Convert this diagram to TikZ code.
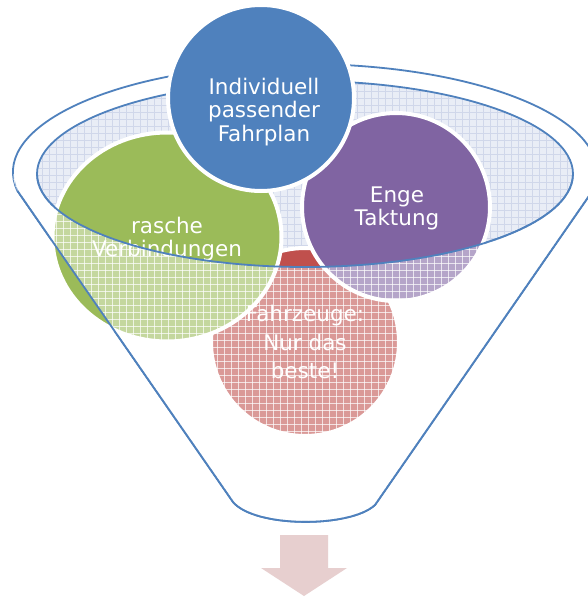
\documentclass[tikz,border=0pt]{standalone}
\usepackage{fontspec}
\setmainfont{DejaVu Sans}
\usetikzlibrary{shapes.geometric}
\definecolor{fblue}{HTML}{4F81BD}
\definecolor{fgreen}{HTML}{9BBB59}
\definecolor{fred}{HTML}{C0504D}
\definecolor{fpurple}{HTML}{8064A2}
\definecolor{rimbg}{RGB}{233,237,246}
\definecolor{rimgrid}{RGB}{208,215,234}
\definecolor{arrowpink}{RGB}{231,207,207}
\begin{document}
\begin{tikzpicture}[x=1pt,y=-1pt,
  ball/.style={circle,draw=white,line width=4pt,inner sep=0pt,outer sep=0pt},
  oval/.style={ellipse,draw=white,line width=4pt,inner sep=0pt,outer sep=0pt},
  txt/.style={text=white,align=center,inner sep=0pt,font=\fontsize{21.5}{23.3}\selectfont},
  funnelline/.style={draw=fblue,line width=1.8pt,line join=round}]
\useasboundingbox (0,0) rectangle (588,597);
\fill[white] (0,0) rectangle (588,597);
% funnel outline (back)
\draw[funnelline] (17.4,190.8) arc[start angle=190,end angle=-10,x radius=292pt,y radius=108pt] -- (375,505) .. controls (350,528) and (255,528) .. (233,502) -- cycle;
% funnel opening
\begin{scope}
\clip (305,174) ellipse [x radius=268pt,y radius=93pt];
\fill[rimbg] (0,60) rectangle (588,300);
\foreach \k in {0,7,...,588} \draw[rimgrid,line width=0.5pt] (\k,60) -- (\k,280);
\foreach \k in {63,70,...,280} \draw[rimgrid,line width=0.5pt] (20,\k) -- (590,\k);
\end{scope}
\draw[funnelline] (305,174) ellipse [x radius=268pt,y radius=93pt];
% circles
\node[ball,fill=fred,minimum size=188pt] (red) at (305,342) {};
\node[oval,fill=fgreen,minimum width=229pt,minimum height=209pt] (green) at (167,237) {};
\node[ball,fill=fpurple,minimum size=188pt] (purple) at (396,207) {};
\node[ball,fill=fblue,minimum size=186pt] (blue) at (261,98) {};
\node[txt] (tblue) at (264,112) {Individuell\\passender\\Fahrplan};
\node[txt] (tgreen) at (167,239) {rasche\\Verbindungen};
\node[txt] (tpurple) at (397,208.5) {Enge\\Taktung};
\node[txt,font=\fontsize{21.5}{28.2}\selectfont] (tred) at (305,342) {Fahrzeuge:\\Nur das\\beste!};
% glass overlay of funnel body
\begin{scope}
\clip (17.4,190.8) arc[start angle=190,end angle=-10,x radius=292pt,y radius=108pt] -- (375,505) .. controls (350,528) and (255,528) .. (233,502) -- cycle;
\clip (-10,174) -- (37,174) arc[start angle=180,end angle=360,x radius=268pt,y radius=93pt] -- (600,174) -- (600,600) -- (-10,600) -- cycle;
\fill[white,opacity=0.42] (0,170) rectangle (600,540);
\foreach \k in {0,7,...,595} \draw[white,opacity=0.7,line width=0.7pt] (\k,170) -- (\k,540);
\foreach \k in {172,179,...,540} \draw[white,opacity=0.7,line width=0.7pt] (0,\k) -- (600,\k);
\end{scope}
% front lines
\draw[funnelline] (37,174) arc[start angle=180,end angle=360,x radius=268pt,y radius=93pt];
\draw[funnelline] (17.4,190.8) -- (233,502) .. controls (255,528) and (350,528) .. (375,505) -- (592.6,190.8);
% arrow
\fill[arrowpink] (280,535) -- (328,535) -- (328,568) -- (347,568) -- (304,596) -- (261,568) -- (280,568) -- cycle;
\end{tikzpicture}
\end{document}
